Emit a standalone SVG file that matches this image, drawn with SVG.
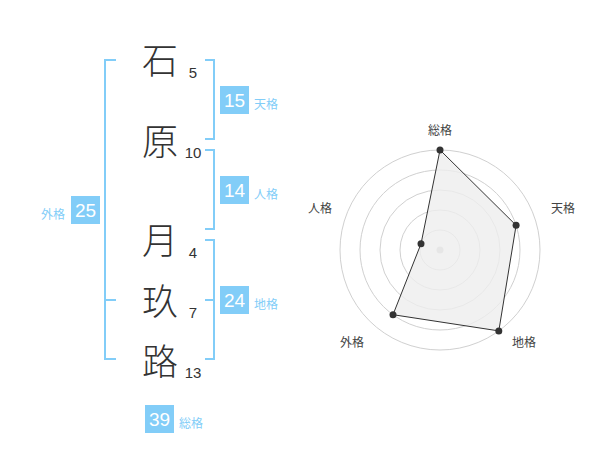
<svg xmlns="http://www.w3.org/2000/svg" width="600" height="470" viewBox="0 0 600 470">
<style>
.kanji{font-family:"Noto Sans CJK JP","Noto Sans CJK SC",sans-serif;font-size:36px;font-weight:300;fill:#333;text-anchor:middle}
.num{font-family:"Liberation Sans",Arial,sans-serif;font-size:15px;fill:#333;text-anchor:middle}
.br{fill:none;stroke:#82cdf8;stroke-width:2}
.box{fill:#82cdf8}
.bnum{font-family:"Liberation Sans",Arial,sans-serif;font-size:19px;fill:#fff;text-anchor:middle}
.blab{font-family:"Noto Sans CJK JP","Noto Sans CJK SC",sans-serif;font-size:12px;fill:#82cdf8}
.ring{fill:none;stroke:#d0d0d0;stroke-width:1}
.rlab{font-family:"Noto Sans CJK JP","Noto Sans CJK SC",sans-serif;font-size:12px;fill:#444;text-anchor:middle}
.pt{fill:#333}
</style>
<rect width="600" height="470" fill="#fff"/>
<g id="name">
<g id="c1"><text class="kanji" x="160" y="74">石</text><text class="num" x="193" y="78">5</text></g>
<g id="c2"><text class="kanji" x="160" y="155">原</text><text class="num" x="193" y="158">10</text></g>
<g id="c3"><text class="kanji" x="160" y="254">月</text><text class="num" x="193" y="258">4</text></g>
<g id="c4"><text class="kanji" x="160" y="315">玖</text><text class="num" x="193" y="318">7</text></g>
<g id="c5"><text class="kanji" x="160" y="375">路</text><text class="num" x="193" y="378">13</text></g>
</g>
<g id="connectors">
<path class="br" d="M116,60 H105 V359 H116 M105,300 H116"/>
<path class="br" d="M205,60 H214 V139 H205"/>
<path class="br" d="M205,150 H214 V229 H205"/>
<path class="br" d="M205,240 H214 V359 H205 M205,300 H214"/>
</g>
<g id="tenkaku"><rect class="box" x="220" y="86" width="29" height="28"/><text class="bnum" x="234.5" y="107">15</text><text class="blab" x="254" y="109">天格</text></g>
<g id="jinkaku"><rect class="box" x="220" y="176" width="29" height="28"/><text class="bnum" x="234.5" y="197">14</text><text class="blab" x="254" y="199">人格</text></g>
<g id="chikaku"><rect class="box" x="220" y="286" width="29" height="28"/><text class="bnum" x="234.5" y="307">24</text><text class="blab" x="254" y="309">地格</text></g>
<g id="gaikaku"><rect class="box" x="71" y="196" width="29" height="28"/><text class="bnum" x="85.5" y="217">25</text><text class="blab" x="41" y="219">外格</text></g>
<g id="soukaku"><rect class="box" x="145" y="405" width="29" height="28"/><text class="bnum" x="159.5" y="426">39</text><text class="blab" x="179" y="428">総格</text></g>
<g id="radar">
<circle class="ring" cx="440" cy="250" r="20"/>
<circle class="ring" cx="440" cy="250" r="40"/>
<circle class="ring" cx="440" cy="250" r="60"/>
<circle class="ring" cx="440" cy="250" r="80"/>
<circle class="ring" cx="440" cy="250" r="100"/>
<circle cx="440" cy="250" r="3.5" fill="#c8c8c8"/>
<polygon points="440,150 516.1,225.3 498.8,330.9 393,314.7 421,243.8" fill="#eeeeee" fill-opacity="0.8" stroke="#333" stroke-width="1"/>
<circle class="pt" cx="440" cy="150" r="3.5"/>
<circle class="pt" cx="516.1" cy="225.3" r="3.5"/>
<circle class="pt" cx="498.8" cy="330.9" r="3.5"/>
<circle class="pt" cx="393" cy="314.7" r="3.5"/>
<circle class="pt" cx="421" cy="243.8" r="3.5"/>
<text class="rlab" x="440" y="135">総格</text>
<text class="rlab" x="563" y="213">天格</text>
<text class="rlab" x="320" y="213">人格</text>
<text class="rlab" x="352" y="347">外格</text>
<text class="rlab" x="524" y="347">地格</text>
</g>
</svg>
